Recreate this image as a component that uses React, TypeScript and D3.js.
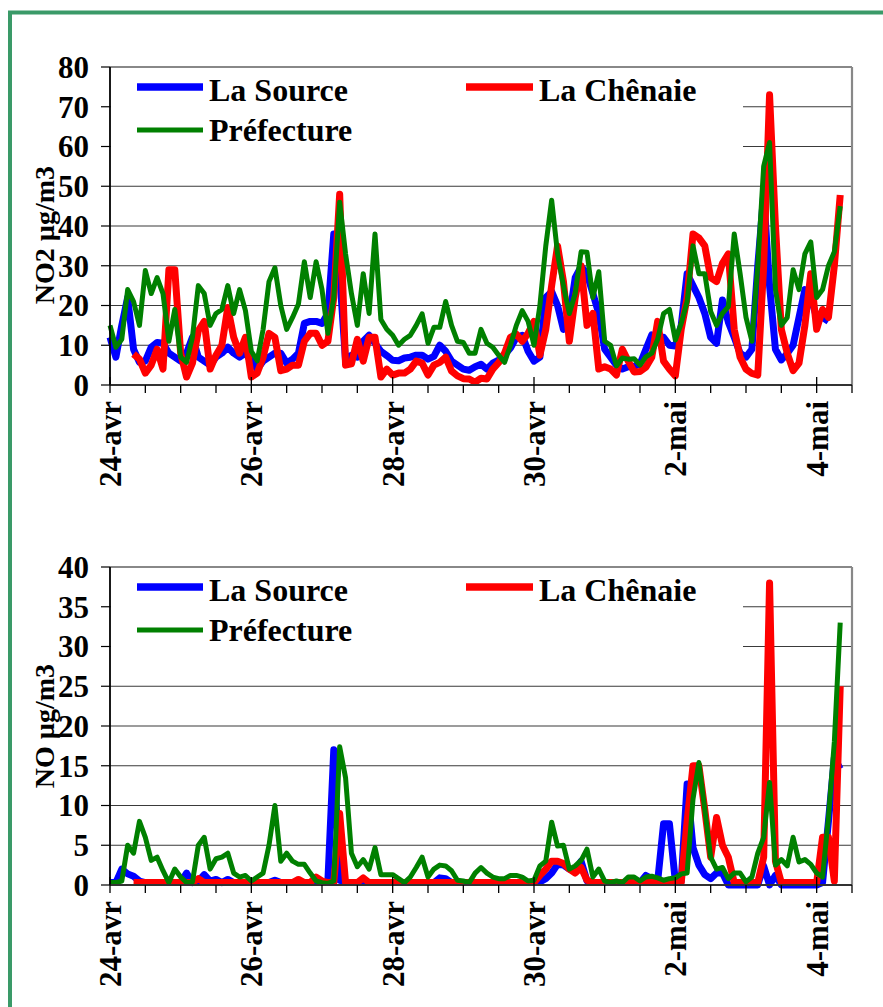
import React from "react";
import * as d3 from "d3";

// time axis: hours since 24-avr 00:00, 2-hour steps
const hours: number[] = d3.range(0, 250, 2);
const tickLabels = ["24-avr", "26-avr", "28-avr", "30-avr", "2-mai", "4-mai"];
const tickHours = [0, 48, 96, 144, 192, 240];
const seriesNames = ["La Source", "La Chênaie", "Préfecture"];

// NO2 (µg/m3)
const laSourceNO2: (number | null)[] = [
  12, 7, 15, 22, 9, 5.7, 6, 9.5, 10.7, 10.5, 8, 7, 6, 8, 12, 7, 6, 5, 7, 8,
  9.5, 8, 7, 8, 6, 4, 6, 7, 8, 8, 5.5, 6.5, 8, 15.5, 16, 16, 15.5, 18, 38, 28,
  6, 7.5, 7, 11, 12.5, 10.5, 8.5, 7.4, 6.2, 6.1, 6.8, 7, 7.5, 7.5, 6.5, 7.2, 10, 8.5, 6, 5,
  4, 3.7, 4.6, 5.2, 4, 5.5, 6.3, 7.6, 9.3, 12, 12.5, 8.5, 6, 7, 22, 23.5, 20, 14, 17, 27,
  29.8, 28, 23, 18, 9, 7, 5, 4, 4.6, 4.7, 5.3, 9, 12.6, 12, 12, 10, 9.8, 15, 28, 25,
  22, 18, 12, 10.5, 21.4, 15.8, 12, 8, 7, 9, 30, 48, 25, 9, 6.3, 7.9, 10, 17, 24, 22,
  17, 17, 16, null, null,
];
const laChenaieNO2: (number | null)[] = [
  null, null, null, null, 7.8, 6.5, 3, 5, 9, 4, 29, 29, 8, 2, 5.5, 13.7, 16, 4, 7.5, 10,
  19.5, 12, 8, 12, 2, 3, 7, 13, 12, 3.6, 4, 5, 5, 11, 13, 13, 10, 11, 22, 48,
  5, 5.3, 11.5, 6, 12, 12, 2, 4, 2.5, 3, 3, 4, 6, 5.5, 2.5, 5, 5.7, 7, 3.5, 2.3,
  1.6, 1.5, 0.7, 1.7, 1.5, 4, 5.6, 8, 12, 12.8, 11, 13, 16, 7.5, 14, 25, 35, 26, 11, 22,
  30, 15, 18, 4, 4.6, 4, 2.5, 9, 6, 3.3, 3.4, 4.5, 7, 16, 6, 4, 2.3, 14, 22, 38,
  37, 35, 27, 26, 30.6, 33, 14, 7, 4, 2.9, 2.5, 30, 73, 40, 14, 8, 3.6, 5.5, 15, 28,
  14, 19, 17, 30, 47.8,
];
const prefectureNO2: (number | null)[] = [
  15, 9.5, 11.5, 24, 21, 15, 28.8, 23, 27, 23, 11, 19, 7, 5.7, 12, 25, 23, 15, 18, 19,
  25, 18, 24, 18.7, 8.5, 6.1, 14, 26, 29.5, 20, 14, 17, 20.4, 31, 22, 31, 24, 13, 22, 46,
  33, 23, 15, 28, 18, 38, 16.5, 14, 12.5, 10, 11.5, 12.5, 15, 17.9, 10.5, 14.5, 14.5, 21, 15, 11,
  10.7, 8, 8, 14, 10.5, 9.5, 7.5, 5.7, 10, 15, 18.7, 16, 10, 20, 35, 46.5, 33, 25, 18, 23,
  33.5, 33.4, 22, 28.5, 11, 10, 4.8, 6.8, 6.5, 6.6, 5, 7.1, 8, 11.5, 18, 19, 11.3, 15.5, 21, 35,
  28, 28, 18.5, 15, 18, 19.7, 38, 28, 17, 11, 30, 55, 61, 24, 15, 17, 29, 24, 33, 36,
  22, 24, 30, 33.5, 45,
];

// NO (µg/m3)
const laSourceNO: (number | null)[] = [
  0.3, 0.3, 2, 1.4, 1.1, 0.5, 0.3, 0.3, 0.3, 0.3, 0.3, 0.3, 0.3, 1.5, 0.3, 0.5, 1.3, 0.5, 0.7, 0.3,
  0.7, 0.3, 0.3, 0.3, 0.3, 0.3, 0.3, 0.3, 0.6, 0.3, 0.3, 0.3, 0.3, 0.3, 0.3, 0.3, 0.3, 0.5, 17, 0.6,
  0.3, 0.3, 0.3, 0.3, 0.3, 0.3, 0.3, 0.3, 0.3, 0.3, 0.3, 0.3, 0.3, 0.3, 0.3, 0.3, 0.9, 0.8, 0.3, 0.3,
  0.3, 0.3, 0.3, 0.3, 0.3, 0.3, 0.3, 0.3, 0.3, 0.3, 0.3, 0.3, 0.3, 0.4, 0.8, 1.5, 2.6, 2.5, 2, 1.8,
  3, 0.5, 0.3, 0.3, 0.3, 0.3, 0.3, 0.3, 0.3, 0.3, 0.3, 1.2, 0.8, 0.5, 7.7, 7.7, 0.5, 0.5, 12.7, 4.7,
  2.5, 1.3, 0.8, 1.5, 1.5, 0, 0, 0, 0, 0, 0, 2.4, 0, 1.2, 0, 0, 0, 0, 0, 0,
  0, 0.3, 8, 16, 14.6,
];
const laChenaieNO: (number | null)[] = [
  null, null, null, null, 0.3, 0.3, 0.3, 0.3, 0.3, 0.3, 0.3, 0.3, 0.3, 0.3, 0.3, 0.8, 0.3, 0.3, 0.3, 0.3,
  0.3, 0.3, 0.3, 0.3, 0.3, 0.3, 0.3, 0.3, 0.3, 0.3, 0.3, 0.3, 0.7, 0.3, 0.3, 1, 0.5, 0.3, 0.3, 9,
  0.3, 0.3, 0.3, 0.9, 0.3, 0.3, 0.3, 0.3, 0.3, 0.3, 0.3, 0.3, 0.3, 0.3, 0.3, 0.3, 0.3, 0.3, 0.3, 0.3,
  0.3, 0.3, 0.3, 0.3, 0.3, 0.3, 0.3, 0.3, 0.3, 0.3, 0.3, 0.3, 0.3, 1.2, 2, 3, 3, 2.7, 2, 1.5,
  2.2, 0.6, 0.3, 0.3, 0.3, 0.3, 0.3, 0.3, 0.3, 0.3, 0.3, 0.3, 0.3, 0.3, 0.3, 0.3, 0.3, 0.3, 8, 15,
  15, 9.5, 3.5, 8.5, 5, 3.5, 0.3, 0.3, 0.3, 0.3, 0.3, 3.5, 38, 3, 0.3, 0.3, 0.3, 0.3, 0.3, 0.3,
  0.3, 6, 6, 0.5, 25,
];
const prefectureNO: (number | null)[] = [
  0.3, 0.3, 0.5, 5, 4, 8, 6, 3.1, 3.5, 1.8, 0.3, 2, 1, 0.3, 0.4, 5, 6, 2, 3.3, 3.5,
  4, 1.5, 1, 1.2, 0.5, 1, 1.5, 5, 10, 3, 4, 3, 2.6, 2.6, 1.5, 0.5, 0.3, 0.2, 0.5, 17.4,
  13.5, 4, 2.3, 3.2, 2, 4.7, 1.3, 1.3, 1.3, 0.8, 0.3, 1, 2.2, 3.5, 1, 2, 2.5, 2.4, 1.8, 0.6,
  0.5, 0.3, 1.5, 2.2, 1.5, 1, 0.8, 0.8, 1.2, 1.2, 1, 0.5, 0.6, 2.4, 3, 7.9, 4.9, 5, 2, 2.4,
  3.1, 4.5, 1, 2, 0.5, 0.3, 0.5, 0.3, 1, 1, 0.5, 1, 1.1, 0.9, 0.6, 0.8, 0.9, 1.4, 1.5, 10.8,
  15.4, 9.5, 3.5, 2, 2.2, 0.8, 1.5, 1.5, 0.4, 1, 4, 6, 12.9, 2.5, 3.2, 2.4, 6, 2.9, 3.2, 2.6,
  1.5, 1, 8.5, 18, 33,
];

const COLORS = ["#0000ff", "#ff0000", "#008000"];
const WIDTHS = [7, 7, 5];
const FONT = "'Liberation Serif', 'Times New Roman', Times, serif";

type Props = {
  top: number;
  yMax: number;
  yStep: number;
  series: (number | null)[][];
  title: string;
  titleShift: number;
};

function Panel({ top, yMax, yStep, series, title, titleShift }: Props) {
  const left = 110;
  const right = 852;
  const bottom = top + 318;
  const x = d3.scaleLinear().domain([0, 252]).range([left, right]);
  const y = d3.scaleLinear().domain([0, yMax]).range([bottom, top]);
  const yTicks = d3.range(0, yMax + yStep / 2, yStep);
  const minorTicks = d3.range(0, 253, 12);
  const legendRight = 743;
  const legendBottom = top + 85;

  const line = d3
    .line<number | null>()
    .defined((d) => d !== null)
    .x((_, i) => x(hours[i]))
    .y((d) => y(d as number));

  return (
    <g>
      {yTicks
        .filter((t) => t > 0 && t < yMax)
        .map((t) => (
          <line key={"g" + t} x1={left} x2={right} y1={y(t)} y2={y(t)} stroke="#3a3a3a" strokeWidth={1.2} />
        ))}
      <line x1={left} x2={right} y1={top} y2={top} stroke="#888" strokeWidth={2} />
      <line x1={right} x2={right} y1={top} y2={bottom} stroke="#888" strokeWidth={2.2} />
      <rect x={left + 1} y={top + 1} width={legendRight - left - 1} height={legendBottom - top} fill="#fff" />
      {series.map((s, k) => (
        <path
          key={"s" + k}
          d={line(s) || ""}
          fill="none"
          stroke={COLORS[k]}
          strokeWidth={WIDTHS[k]}
          strokeLinejoin="round"
          strokeLinecap="butt"
        />
      ))}
      <line x1={left} x2={left} y1={top} y2={bottom} stroke="#000" strokeWidth={1.8} />
      <line x1={left} x2={right} y1={bottom} y2={bottom} stroke="#333" strokeWidth={2.2} />
      {yTicks.map((t) => (
        <g key={"yt" + t}>
          <line x1={left - 9} x2={left} y1={y(t)} y2={y(t)} stroke="#000" strokeWidth={1.2} />
          <text
            x={left - 21}
            y={y(t)}
            dy="0.35em"
            textAnchor="end"
            fontFamily={FONT}
            fontWeight="bold"
            fontSize={31}
          >
            {t}
          </text>
        </g>
      ))}
      {minorTicks.map((h) => (
        <line
          key={"xt" + h}
          x1={x(h)}
          x2={x(h)}
          y1={h % 48 === 0 ? bottom - 8 : bottom}
          y2={bottom + 8}
          stroke="#000"
          strokeWidth={1.3}
        />
      ))}
      {tickHours.map((h, i) => (
        <text
          key={"xl" + h}
          transform={`translate(${x(h)},${bottom + 16}) rotate(-90)`}
          dy="0.35em"
          textAnchor="end"
          fontFamily={FONT}
          fontWeight="bold"
          fontSize={31}
        >
          {tickLabels[i]}
        </text>
      ))}
      <text
        transform={`translate(44,${(top + bottom) / 2 + titleShift}) rotate(-90)`}
        dy="0.35em"
        textAnchor="middle"
        fontFamily={FONT}
        fontWeight="bold"
        fontSize={28}
      >
        {title}
      </text>
      <line x1={137} x2={203} y1={top + 20} y2={top + 20} stroke={COLORS[0]} strokeWidth={7.5} />
      <text x={209} y={top + 34} fontFamily={FONT} fontWeight="bold" fontSize={32}>
        {seriesNames[0]}
      </text>
      <line x1={466} x2={533} y1={top + 20} y2={top + 20} stroke={COLORS[1]} strokeWidth={7.5} />
      <text x={539} y={top + 34} fontFamily={FONT} fontWeight="bold" fontSize={32}>
        {seriesNames[1]}
      </text>
      <line x1={137} x2={203} y1={top + 63} y2={top + 63} stroke={COLORS[2]} strokeWidth={5} />
      <text x={209} y={top + 74} fontFamily={FONT} fontWeight="bold" fontSize={32}>
        {seriesNames[2]}
      </text>
    </g>
  );
}

export default function App() {
  return (
    <svg
      width={883}
      height={1007}
      style={{ position: "absolute", left: 0, top: 0, background: "#fff" }}
    >
      <rect x={0} y={0} width={883} height={1007} fill="#fff" />
      <rect x={10} y={12.5} width={900} height={1100} fill="none" stroke="#3a9a68" strokeWidth={4} />
      <Panel top={67} yMax={80} yStep={10} series={[laSourceNO2, laChenaieNO2, prefectureNO2]} title="NO2 µg/m3" titleShift={9} />
      <Panel top={567} yMax={40} yStep={5} series={[laSourceNO, laChenaieNO, prefectureNO]} title="NO µg/m3" titleShift={0} />
    </svg>
  );
}
